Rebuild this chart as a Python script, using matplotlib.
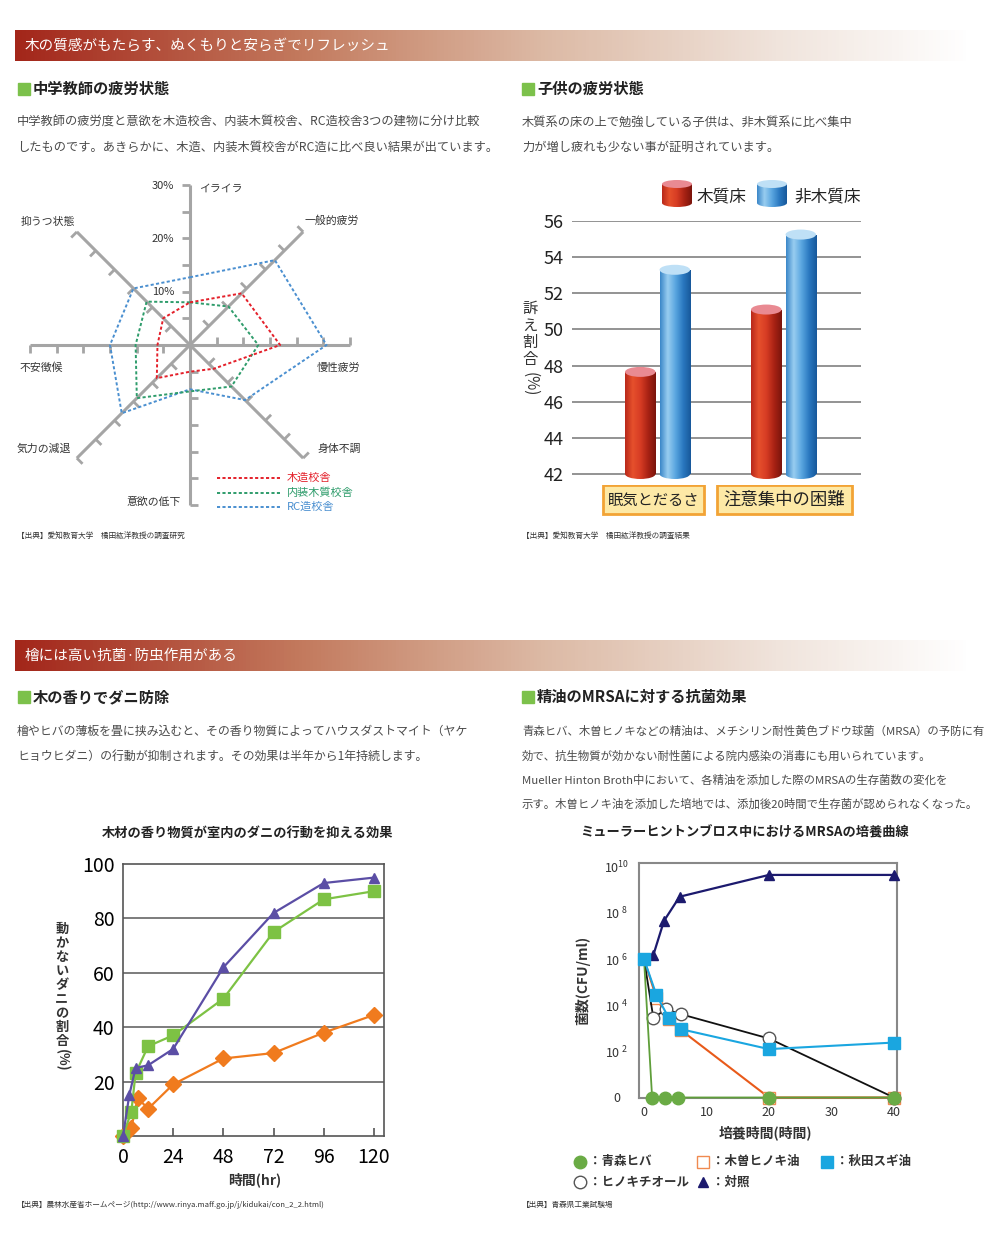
import numpy as np
import matplotlib
matplotlib.use('Agg')
import matplotlib.pyplot as plt
from matplotlib.colors import LinearSegmentedColormap
from matplotlib.patches import Rectangle, Ellipse
from matplotlib.ticker import NullLocator

plt.rcParams['font.family'] = ['Noto Sans CJK JP', 'DejaVu Sans']

# ---- 中学教師の疲労状態 (radar, %) ----
radar_labels = ['イライラ', '一般的疲労', '慢性疲労', '身体不調', '意欲の低下', '気力の減退', '不安徴候', '抑うつ状態']
radar_wood = [8.0, 13.7, 16.9, 6.3, 5.0, 8.8, 6.1, 7.1]
radar_interior = [8.0, 10.2, 12.8, 11.0, 8.7, 14.1, 10.2, 11.5]
radar_rc = [12.7, 22.5, 25.6, 14.6, 8.3, 18.1, 15.0, 15.0]
radar_names = ['木造校舎', '内装木質校舎', 'RC造校舎']

# ---- 子供の疲労状態 (bars, %) ----
bar_categories = ['眠気とだるさ', '注意集中の困難']
bar_wood = [47.65, 51.1]
bar_nonwood = [53.3, 55.25]
bar_names = ['木質床', '非木質床']

# ---- ダニ (hr, %) ----
mite_hinoki_t = [0, 3, 6, 12, 24, 48, 72, 96, 120]
mite_hinoki = [0, 15, 25, 26, 32, 62, 82, 93, 95]
mite_hiba_t = [0, 4, 6, 12, 24, 48, 72, 96, 120]
mite_hiba = [0, 9, 23, 33, 37, 50.5, 75, 87, 90]
mite_ctrl_t = [0, 4, 7, 12, 24, 48, 72, 96, 120]
mite_ctrl = [0, 3, 14, 10, 19, 28.5, 30.5, 38, 44.5]

# ---- MRSA (hours, CFU/ml) ----
mrsa_aomori_t = [0, 1.3, 3.3, 5.5, 20, 40]
mrsa_aomori = [1e6, 1, 1, 1, 1, 1]
mrsa_kiso_t = [0, 2, 4, 6, 20, 40]
mrsa_kiso = [1e6, 2e4, 2.5e3, 8e2, 1, 1]
mrsa_akita_t = [0, 2, 4, 6, 20, 40]
mrsa_akita = [1e6, 2.7e4, 2.7e3, 9e2, 1.25e2, 2.4e2]
mrsa_hinokitiol_t = [0, 1.5, 3.5, 6, 20, 40]
mrsa_hinokitiol = [1e6, 2.8e3, 6.6e3, 4e3, 3.6e2, 1]
mrsa_ctrl_t = [0, 1.5, 3.2, 5.7, 20, 40]
mrsa_ctrl = [1e6, 1.5e6, 4.5e7, 5e8, 4.4e9, 4.4e9]


def px_rect(x0, y0, x1, y1):
    return [x0 / 1000, 1 - y1 / 1250, (x1 - x0) / 1000, (y1 - y0) / 1250]


fig = plt.figure(figsize=(10, 12.5), dpi=100)
bg = fig.add_axes([0, 0, 1, 1])
bg.set_xlim(0, 1000)
bg.set_ylim(1250, 0)
bg.axis('off')

grad = np.linspace(0, 1, 256).reshape(1, -1)
hdr_cmap = LinearSegmentedColormap.from_list(
    'hdr', [(0, '#a3261a'), (0.3, '#c37a5e'), (0.55, '#dcb9a4'), (0.8, '#f0e4dc'), (1, '#ffffff')])
for y0, title in [(30, '木の質感がもたらす、ぬくもりと安らぎでリフレッシュ'),
                  (640, '檜には高い抗菌·防虫作用がある')]:
    bg.imshow(grad, cmap=hdr_cmap, extent=(15, 970, y0 + 31, y0), aspect='auto')
    bg.text(25, y0 + 15.5, title, color='white', fontsize=10.5, va='center')


def section(x, y, txt):
    bg.add_patch(Rectangle((x, y - 6), 12, 12, color='#7cc14b'))
    bg.text(x + 15, y, txt, fontsize=11, fontweight='bold', va='center', color='#222222')


section(18, 89, '中学教師の疲労状態')
section(522, 89, '子供の疲労状態')
section(18, 697, '木の香りでダニ防除')
section(522, 697, '精油のMRSAに対する抗菌効果')

paras = [
    (17, 8.8, [122, 147], ['中学教師の疲労度と意欲を木造校舎、内装木質校舎、RC造校舎3つの建物に分け比較',
                           'したものです。あきらかに、木造、内装木質校舎がRC造に比べ良い結果が出ています。']),
    (522, 8.8, [122, 147], ['木質系の床の上で勉強している子供は、非木質系に比べ集中',
                            '力が増し疲れも少ない事が証明されています。']),
    (17, 8.6, [731, 756], ['檜やヒバの薄板を畳に挟み込むと、その香り物質によってハウスダストマイト（ヤケ',
                           'ヒョウヒダニ）の行動が抑制されます。その効果は半年から1年持続します。']),
    (522, 8.2, [731, 756, 780, 804], ['青森ヒバ、木曽ヒノキなどの精油は、メチシリン耐性黄色ブドウ球菌（MRSA）の予防に有',
                                      '効で、抗生物質が効かない耐性菌による院内感染の消毒にも用いられています。',
                                      'Mueller Hinton Broth中において、各精油を添加した際のMRSAの生存菌数の変化を',
                                      '示す。木曽ヒノキ油を添加した培地では、添加後20時間で生存菌が認められなくなった。']),
]
for x, fs, ys, lines in paras:
    for y, line in zip(ys, lines):
        bg.text(x, y, line, fontsize=fs, color='#4a4a4a', va='center')

for x, y, txt in [(17, 537, '【出典】愛知教育大学　橘田紘洋教授の調査研究'),
                  (522, 537, '【出典】愛知教育大学　橘田紘洋教授の調査結果'),
                  (17, 1205, '【出典】農林水産省ホームページ(http://www.rinya.maff.go.jp/j/kidukai/con_2_2.html)'),
                  (522, 1205, '【出典】青森県工業試験場')]:
    bg.text(x, y, txt, fontsize=5.5, color='#333333', va='center')

# ---------------- radar ----------------
unit = 160 / 30
rmax = 35
rax = fig.add_axes(px_rect(190 - rmax * unit, 345 - rmax * unit, 190 + rmax * unit, 345 + rmax * unit),
                   projection='polar')
rax.set_theta_offset(np.pi / 2)
rax.set_theta_direction(-1)
rax.axis('off')
angles = np.arange(len(radar_labels)) * 2 * np.pi / len(radar_labels)
tick_len = 1.5
for th in angles:
    rax.plot([th, th], [0, 30], color='#a5a5a5', lw=2.2, solid_capstyle='butt', zorder=1)
    for r in range(5, 31, 5):
        rax.plot([th, th - np.arctan(tick_len / r)], [r, np.hypot(r, tick_len)],
                 color='#a5a5a5', lw=2.0, solid_capstyle='butt', zorder=1)
radar_colors = ['#e4202a', '#2e9c6b', '#4a8fd0']
for vals, col in zip([radar_rc, radar_interior, radar_wood], radar_colors[::-1]):
    th = np.append(angles, angles[0])
    rv = np.append(vals, vals[0])
    rax.plot(th, rv, color=col, lw=1.4, linestyle=(0, (1.6, 1.2)), zorder=3)
rax.set_ylim(0, rmax)

for y, txt in [(186, '30%'), (239, '20%'), (292, '10%')]:
    bg.text(174, y, txt, fontsize=8, ha='right', va='center', color='#333333')
radar_pos = [(199, 189, 'left'), (332, 221, 'center'), (338, 368, 'center'), (339, 449, 'center'),
             (154, 502, 'center'), (44, 449, 'center'), (41, 368, 'center'), (48, 222, 'center')]
for (x, y, ha), txt in zip(radar_pos, radar_labels):
    bg.text(x, y, txt, fontsize=7.8, ha=ha, va='center', color='#333333')
for y, name, col in zip([478, 493, 507], radar_names, radar_colors):
    bg.plot([217, 280], [y, y], color=col, lw=1.4, linestyle=(0, (1.6, 1.2)))
    bg.text(287, y, name, fontsize=8, color=col, va='center')

# ---------------- bars ----------------
px_per = 253 / 14
bax = fig.add_axes(px_rect(572, 221, 861, 474 + 0.6 * px_per))
bax.set_ylim(41.4, 56)
bax.set_xlim(-0.679, 1.615)
for v in range(42, 57, 2):
    bax.axhline(v, color='#8a8a8a', lw=1.3, zorder=0)
bax.set_yticks(range(42, 57, 2))
bax.set_xticks([])
bax.tick_params(axis='y', length=0, pad=6, labelsize=13, labelcolor='#222222')
for s in bax.spines.values():
    s.set_visible(False)

red_cmap = LinearSegmentedColormap.from_list('r', ['#b8281a', '#e6502c', '#d63c24', '#a82214', '#7a140c'])
blue_cmap = LinearSegmentedColormap.from_list('b', ['#3a86c8', '#98cdf0', '#5aa6e0', '#2a78c0', '#17589a'])
w = 0.242
xs = np.arange(len(bar_categories))
cap_h = 10 / px_per
for vals, off, cmap, cap in [(bar_wood, -0.137, red_cmap, '#e98a92'),
                             (bar_nonwood, 0.137, blue_cmap, '#bfe0f6')]:
    bars = bax.bar(xs + off, np.array(vals) - 42, bottom=42, width=w, color='none', zorder=2)
    for b in bars:
        x0, y0 = b.get_x(), b.get_y()
        x1, y1 = x0 + b.get_width(), y0 + b.get_height()
        im = bax.imshow(grad, cmap=cmap, extent=(x0, x1, y0, y1), aspect='auto', zorder=2)
        im.set_clip_path(b)
        bot = Ellipse(((x0 + x1) / 2, y0), x1 - x0, cap_h, facecolor='none', edgecolor='none')
        bax.add_patch(bot)
        im2 = bax.imshow(grad, cmap=cmap, extent=(x0, x1, y0 - cap_h / 2, y0), aspect='auto', zorder=2)
        im2.set_clip_path(bot)
        bax.add_patch(Ellipse(((x0 + x1) / 2, y1), x1 - x0, cap_h, facecolor=cap, edgecolor='none', zorder=3))
bax.set_ylim(41.4, 56)
bax.set_xlim(-0.679, 1.615)

# legend cylinders
for x0, cmap, cap, name, tx in [(662, red_cmap, '#e98a92', bar_names[0], 697),
                                (757, blue_cmap, '#bfe0f6', bar_names[1], 794)]:
    bg.imshow(grad, cmap=cmap, extent=(x0, x0 + 30, 203, 184), aspect='auto')
    bot = Ellipse((x0 + 15, 203), 30, 8, facecolor='none', edgecolor='none')
    bg.add_patch(bot)
    im = bg.imshow(grad, cmap=cmap, extent=(x0, x0 + 30, 207, 203), aspect='auto')
    im.set_clip_path(bot)
    bg.add_patch(Ellipse((x0 + 15, 184), 30, 8, facecolor=cap, edgecolor='none'))
    bg.text(tx, 197, name, fontsize=12, va='center', color='#222222')

for (bx0, bx1), cat, fs in zip([(603, 704), (717, 852)], bar_categories, [11, 12.5]):
    bg.add_patch(Rectangle((bx0, 485), bx1 - bx0, 29, facecolor='#fde9a6', edgecolor='#f2a335', lw=2))
    bg.text((bx0 + bx1) / 2, 500, cat, fontsize=fs, ha='center', va='center', color='#222222')

bg.text(530, 300, '\n'.join('訴え割合'), fontsize=11, ha='center', va='top', linespacing=1.0, color='#333333')
bg.text(530, 384, '(%)', fontsize=11, ha='center', va='center', rotation=-90, color='#333333')

# ---------------- mites ----------------
bg.text(248, 833, '木材の香り物質が室内のダニの行動を抑える効果', fontsize=9.5, fontweight='bold',
        ha='center', va='center', color='#222222')
dax = fig.add_axes(px_rect(123, 864, 384, 1136))
for v in (20, 40, 60, 80):
    dax.axhline(v, color='#666666', lw=1.2, zorder=1)
dax.plot(mite_ctrl_t, mite_ctrl, color='#f07b1e', marker='D', ms=8, lw=1.6, clip_on=False, zorder=3)
dax.plot(mite_hiba_t, mite_hiba, color='#7dc244', marker='s', ms=8, lw=1.6, clip_on=False, zorder=4)
dax.plot(mite_hinoki_t, mite_hinoki, color='#5b4ea5', marker='^', ms=7, lw=1.6, clip_on=False, zorder=5)
dax.set_xlim(0, 124.8)
dax.set_ylim(0, 100)
dax.set_xticks([0, 24, 48, 72, 96, 120])
dax.set_yticks([20, 40, 60, 80, 100])
dax.tick_params(axis='x', direction='in', length=6, width=1.2, color='#555555', labelsize=14, pad=8)
dax.tick_params(axis='y', length=0, labelsize=14, pad=6)
for s in dax.spines.values():
    s.set_color('#555555')
    s.set_linewidth(1.2)
bg.text(265, 893, 'ヒノキ材', fontsize=9, color='#5b4ea5', ha='center', va='center')
bg.text(308, 938, 'ヒバ材', fontsize=9, color='#7dc244', ha='center', va='center')
bg.text(311, 1056, '対照', fontsize=9, color='#f07b1e', ha='center', va='center')
bg.text(62, 922, '\n'.join('動かないダニの割合'), fontsize=9.5, fontweight='bold', ha='center', va='top',
        linespacing=1.0, color='#333333')
bg.text(62, 1060, '(%)', fontsize=9.5, fontweight='bold', ha='center', va='center', rotation=-90,
        color='#333333')
bg.text(255, 1180, '時間(hr)', fontsize=10, fontweight='bold', ha='center', va='center', color='#333333')

# ---------------- MRSA ----------------
bg.text(745, 833, 'ミューラーヒントンブロス中におけるMRSAの培養曲線', fontsize=9.5, fontweight='bold',
        ha='center', va='center', color='#222222')
max_ = fig.add_axes(px_rect(639, 863, 897, 1097.5))
max_.set_yscale('log')
max_.plot(mrsa_ctrl_t, mrsa_ctrl, color='#1c1a6e', marker='^', ms=7, lw=1.6, clip_on=False,
          markevery=slice(1, None), zorder=3)
max_.plot(mrsa_kiso_t, mrsa_kiso, color='#e85a1a', marker='s', ms=8, mfc='white', mec='#f08a50', lw=1.5,
          clip_on=False, markevery=slice(1, None), zorder=4)
max_.plot(mrsa_hinokitiol_t, mrsa_hinokitiol, color='#111111', marker='o', ms=9, mfc='white', mec='#555555',
          lw=1.3, clip_on=False, markevery=slice(1, None), zorder=5)
max_.plot(mrsa_aomori_t, mrsa_aomori, color='#5f9e3a', marker='o', ms=9, mfc='#6aab45', mec='#6aab45',
          lw=1.3, clip_on=False, markevery=slice(1, None), zorder=6)
max_.plot(mrsa_akita_t, mrsa_akita, color='#1aa6e0', marker='s', ms=8, mfc='#1aa6e0', mec='#1aa6e0',
          lw=1.5, clip_on=False, zorder=7)
max_.set_xlim(-0.8, 40.5)
max_.set_ylim(1, 10 ** 10.16)
max_.set_yticks([1, 1e2, 1e4, 1e6, 1e8, 1e10])
max_.set_yticklabels(['0', r'$\mathregular{10^{\ 2}}$', r'$\mathregular{10^{\ 4}}$',
                      r'$\mathregular{10^{\ 6}}$', r'$\mathregular{10^{\ 8}}$', r'$\mathregular{10^{10}}$'])
max_.yaxis.set_minor_locator(NullLocator())
max_.set_xticks([0, 10, 20, 30, 40])
max_.tick_params(axis='both', length=0, labelsize=9, labelcolor='#333333')
max_.tick_params(axis='y', pad=16)
max_.tick_params(axis='x', pad=6)
for lbl in max_.get_yticklabels():
    lbl.set_ha('center')
for s in max_.spines.values():
    s.set_color('#888888')
    s.set_linewidth(1.5)
bg.text(583, 980, '菌数(CFU/ml)', fontsize=10, fontweight='bold', rotation=90, ha='center', va='center',
        color='#333333')
bg.text(765, 1133, '培養時間(時間)', fontsize=10, fontweight='bold', ha='center', va='center', color='#333333')

legend_items = [
    (580, 1162, dict(marker='o', ms=9, mfc='#6aab45', mec='#6aab45'), '：青森ヒバ'),
    (703, 1162, dict(marker='s', ms=8, mfc='white', mec='#f08a50'), '：木曽ヒノキ油'),
    (827, 1162, dict(marker='s', ms=8, mfc='#1aa6e0', mec='#1aa6e0'), '：秋田スギ油'),
    (580, 1182, dict(marker='o', ms=9, mfc='white', mec='#555555'), '：ヒノキチオール'),
    (703, 1182, dict(marker='^', ms=7, mfc='#1c1a6e', mec='#1c1a6e'), '：対照'),
]
for x, y, style, txt in legend_items:
    bg.plot([x], [y], linestyle='none', **style)
    bg.text(x + 9, y, txt, fontsize=9, fontweight='bold', va='center', color='#333333')

fig.savefig('out.png', dpi=100)
